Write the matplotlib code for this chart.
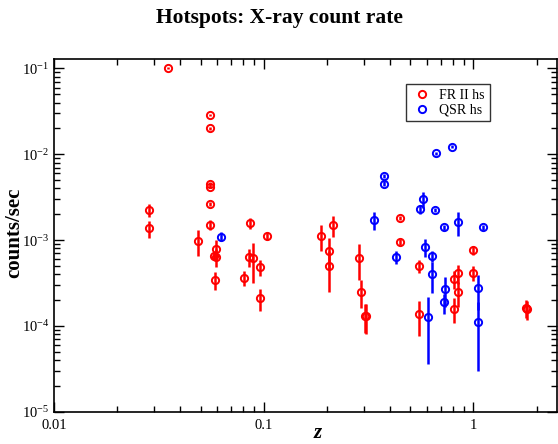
import matplotlib
matplotlib.use("Agg")
import matplotlib.pyplot as plt
from matplotlib.lines import Line2D
from matplotlib.ticker import LogLocator, FixedLocator, NullFormatter

plt.rcParams['font.family'] = ['Liberation Serif', 'DejaVu Serif']
plt.rcParams['mathtext.fontset'] = 'custom'
plt.rcParams['mathtext.rm'] = 'Liberation Serif'
plt.rcParams['mathtext.it'] = 'Liberation Serif:italic'
plt.rcParams['mathtext.bf'] = 'Liberation Serif:bold'

# FR II hotspots
fr_z = [0.035, 0.0557, 0.0557, 0.0557, 0.0557, 0.0557, 0.0557,
        0.0283, 0.0283, 0.0485, 0.0595, 0.058, 0.059, 0.0588,
        0.0861, 0.104, 0.0855, 0.0893, 0.0961, 0.0809, 0.0961,
        0.187, 0.215, 0.205, 0.205, 0.285, 0.2915, 0.305, 0.307,
        0.447, 0.447, 0.551, 0.551, 0.81, 0.84, 0.846, 0.81,
        0.9945, 0.9945, 1.78, 1.79]
fr_rate = [0.102, 0.0287, 0.0201, 0.0045, 0.0042, 0.00265, 0.0015,
           0.00224, 0.00137, 0.00098, 0.00079, 0.00066, 0.00063, 0.000343,
           0.00157, 0.00112, 0.000635, 0.00062, 0.000485, 0.000361, 0.000211,
           0.00112, 0.0015, 0.00075, 0.0005, 0.000623, 0.00025, 0.000132, 0.00013,
           0.00181, 0.000957, 0.000499, 0.000136, 0.000352, 0.00041, 0.000246, 0.000159,
           0.000768, 0.000417, 0.000162, 0.000157]
fr_err = [0.003, 0.001, 0.0008, 0.0002, 0.0002, 0.00015, 0.0002,
          0.0004, 0.0003, 0.00033, 0.0002, 0.00008, 0.00015, 0.00008,
          0.00022, 0.00013, 0.00015, 0.0003, 0.0001, 0.00007, 0.00006,
          0.00038, 0.0004, 0.0003, 0.00025, 0.00028, 0.00009, 0.00005, 0.00005,
          0.0001, 0.00007, 0.00009, 0.00006, 0.00008, 0.0001, 0.00008, 0.00005,
          0.00009, 0.00008, 0.00004, 0.00004]

# QSR hotspots
qs_z = [0.0628, 0.334, 0.3725, 0.3725, 0.425, 0.553, 0.572, 0.657,
        0.6625, 0.789, 0.72, 0.846, 1.11, 0.589, 0.634, 0.634,
        0.604, 0.734, 0.72, 1.054, 1.054]
qs_rate = [0.0011, 0.00171, 0.00558, 0.00454, 0.00063, 0.00229, 0.00299, 0.00224,
           0.0103, 0.0123, 0.00141, 0.00161, 0.00141, 0.000837, 0.00065, 0.000399,
           0.000126, 0.000267, 0.000188, 0.000274, 0.00011]
qs_err = [0.00013, 0.0004, 0.0003, 0.0003, 0.00011, 0.0003, 0.0006, 0.0001,
          0.0004, 0.0004, 0.0001, 0.0005, 0.0001, 0.0002, 0.0001, 0.00016,
          0.00009, 0.0001, 0.00005, 0.00012, 0.00008]

labels = ["FR II hs", "QSR hs"]
colors = ["#ff0000", "#0000ff"]

fig = plt.figure(figsize=(5.58, 4.44), dpi=100)
ax = fig.add_axes([54/558, 1-411.7/444, (557.3-54)/558, (411.7-59.3)/444])

for z, r, e, c in [(fr_z, fr_rate, fr_err, colors[0]), (qs_z, qs_rate, qs_err, colors[1])]:
    ax.errorbar(z, r, yerr=e, fmt='none', ecolor=c, elinewidth=1.8, capsize=0, zorder=2)
    ax.plot(z, r, 'o', ms=5.2, mfc='none', mec=c, mew=1.4, ls='none', zorder=3)

ax.set_xscale('log')
ax.set_yscale('log')
ax.set_xlim(0.01, 2.51)
ax.set_ylim(1e-5, 0.128)

ax.xaxis.set_major_locator(FixedLocator([0.01, 0.1, 1]))
ax.set_xticklabels(["0.01", "0.1", "1"])
ax.xaxis.set_minor_locator(LogLocator(base=10, subs=range(2, 10)))
ax.xaxis.set_minor_formatter(NullFormatter())
ax.yaxis.set_major_locator(FixedLocator([1e-5, 1e-4, 1e-3, 1e-2, 1e-1]))
ax.set_yticklabels([r"10$^{-5}$", r"10$^{-4}$", r"10$^{-3}$", r"10$^{-2}$", r"10$^{-1}$"])
ax.yaxis.set_minor_locator(LogLocator(base=10, subs=range(2, 10)))
ax.yaxis.set_minor_formatter(NullFormatter())

ax.tick_params(which='both', direction='in', top=True, right=True, width=1.0, labelsize=10.5)
ax.tick_params(which='major', length=7)
ax.tick_params(which='minor', length=4)
ax.tick_params(axis='x', pad=5)
for s in ax.spines.values():
    s.set_linewidth(1.2)

handles = [Line2D([], [], marker='o', ls='none', ms=5.2, mfc='none', mec=c, mew=1.4) for c in colors]
leg = ax.legend(handles, labels, loc='upper left', bbox_to_anchor=(0.6994, 0.929),
                borderaxespad=0, frameon=True, fancybox=False, edgecolor='black',
                fontsize=10, handletextpad=0.5, borderpad=0.35, labelspacing=0.1,
                handlelength=1.55)
leg.get_frame().set_linewidth(1.0)

fig.text(0.5, 1-18/444, "Hotspots: X-ray count rate", ha='center', va='center',
         fontsize=15.5, fontweight='bold')
fig.text(318/558, 1-433/444, "z", ha='center', va='center',
         fontsize=15, fontweight='bold', fontstyle='italic')
fig.text(14/558, 1-233/444, "counts/sec", ha='center', va='center', rotation=90,
         fontsize=15, fontweight='bold')

fig.savefig("out.png", dpi=100)
